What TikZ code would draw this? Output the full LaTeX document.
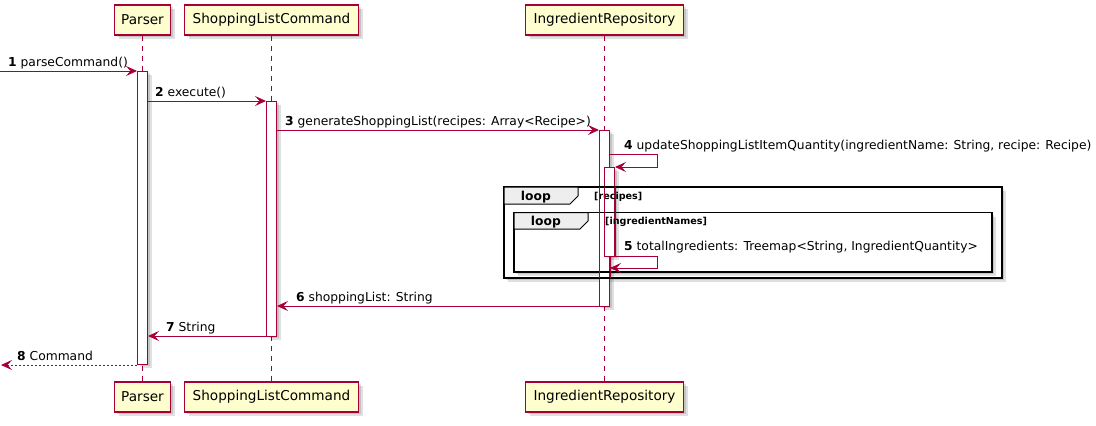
\documentclass[tikz,border=0pt]{standalone}
\usepackage{fontspec}
\setmainfont{DejaVu Sans}
\usetikzlibrary{arrows.meta}
\definecolor{pu}{HTML}{A80036}
\definecolor{pubg}{HTML}{FEFECE}
\definecolor{tabbg}{HTML}{EEEEEE}
\tikzset{
 partbox/.style={draw=pu, fill=pubg, line width=1.2pt, minimum height=30pt, inner sep=0pt, font=\fontsize{13.6}{16}\selectfont},
 lifeline/.style={draw=pu, line width=0.8pt, dash pattern=on 5pt off 5pt},
 actbox/.style={draw=pu, fill=white, line width=1pt, minimum width=10pt, inner sep=0pt},
 actline/.style={draw=pu, line width=1pt},
 msg/.style={draw=pu, line width=1pt, -{Stealth[length=11pt,width=10pt,inset=4.5pt]}},
 retmsg/.style={msg, dash pattern=on 2pt off 2pt},
 msglabel/.style={anchor=base west, inner sep=0pt, font=\fontsize{12.3}{14}\selectfont},
 looplabel/.style={anchor=base west, inner sep=0pt, font=\bfseries\fontsize{12.3}{14}\selectfont},
 condlabel/.style={anchor=base west, inner sep=0pt, font=\bfseries\fontsize{9.6}{11}\selectfont},
 framebox/.style={draw=black, line width=1.5pt},
 tabshape/.style={draw=black, fill=tabbg, line width=1pt},
 shade1/.style={fill=black, opacity=0.12, draw=none},
}
\newcommand{\shadowrect}[4]{%
  \fill[shade1] (#1+2,#2+2) rectangle (#3+2,#4+2);
  \fill[shade1] (#1+4,#2+4) rectangle (#3+4,#4+4);}
\begin{document}
\begin{tikzpicture}[x=1pt,y=-1pt]
\useasboundingbox (0,0) rectangle (1096,426);
\fill[white] (0,0) rectangle (1096,426);

% participant shadows
\shadowrect{114.5}{5}{170.5}{35}
\shadowrect{184.5}{5}{358.5}{35}
\shadowrect{525.5}{5}{683.5}{35}
\shadowrect{114.5}{382}{170.5}{412}
\shadowrect{184.5}{382}{358.5}{412}
\shadowrect{525.5}{382}{683.5}{412}

% participants
\node[partbox, minimum width=56pt] (pT) at (142.5,20) {Parser};
\node[partbox, minimum width=174pt] (sT) at (271.5,20) {ShoppingListCommand};
\node[partbox, minimum width=158pt] (iT) at (604.5,20) {IngredientRepository};
\node[partbox, minimum width=56pt] (pB) at (142.5,397) {Parser};
\node[partbox, minimum width=174pt] (sB) at (271.5,397) {ShoppingListCommand};
\node[partbox, minimum width=158pt] (iB2) at (604.5,397) {IngredientRepository};

% loop frame shadows (outside only)
\shadowrect{504}{187}{1002}{278}
\fill[white] (504,187) rectangle (1002,278);
\shadowrect{514}{212.5}{992}{272}
\fill[white] (514,212.5) rectangle (992,272);

% lifelines
\draw[lifeline] (pT.south) -- (pB.north);
\draw[lifeline] (sT.south) -- (sB.north);
\draw[lifeline] (iT.south) -- (iB2.north);

% activations
\shadowrect{137.5}{71}{147.5}{364}
\node[actbox, minimum height=293pt] (pA) at (142.5,217.5) {};
\shadowrect{266.5}{101}{276.5}{336}
\node[actbox, minimum height=235pt] (sA) at (271.5,218.5) {};
\shadowrect{599.5}{130}{609.5}{306}
\node[actbox, minimum height=176pt] (iA) at (604.5,218) {};
\shadowrect{604.5}{167}{614.5}{256}
\node[actbox, minimum height=89pt] (iB) at (609.5,211.5) {};

% loop frames (drawn over the activations, as in the reference)
\draw[framebox] (504,187) rectangle (1002,278);
\draw[tabshape] (504,187) -- (578,187) -- (578,196) -- (570,204) -- (504,204) -- cycle;
\node[looplabel] (lo1) at (520.7,200) {loop};
\node[condlabel] (c1) at (594,199.5) {[recipes]};

\draw[framebox] (514,212.5) rectangle (992,272);
\draw[tabshape] (514,212.5) -- (588,212.5) -- (588,221) -- (580,229) -- (514,229) -- cycle;
\node[looplabel] (lo2) at (530.7,225) {loop};
\node[condlabel] (c2) at (605,224.3) {[ingredientNames]};

% activation outlines crossing the frame labels stay visible
\draw[actline] (iA.west |- 0,187) -- (iA.west |- 0,278)
               (iA.east |- iB.south) -- (iA.east |- 0,278);
\draw[actline] (iB.west |- 0,187) -- (iB.south west)
               (iB.east |- 0,187) -- (iB.south east);

% messages
\coordinate (s1) at (0,71);
\draw[msg] (s1) -- (s1 -| pA.west);
\node[msglabel] (l1) at (8,66.5) {\textbf{1} parseCommand()};

\draw[msg] (pA.east |- 0,101) -- (sA.west |- 0,101);
\node[msglabel] (l2) at (155,96.5) {\textbf{2} execute()};

\draw[msg] (sA.east |- 0,130) -- (iA.west |- 0,130);
\node[msglabel] (l3) at (285,125.5) {\textbf{3} generateShoppingList(recipes: Array<Recipe>)};

\draw[msg] (iA.east |- 0,154) -- (657,154) -- (657,167) -- (iB.east |- 0,167);
\node[msglabel] (l4) at (624,149.3) {\textbf{4} updateShoppingListItemQuantity(ingredientName: String, recipe: Recipe)};

\draw[msg] (iB.east |- 0,256) -- (657,256) -- (657,268) -- (iA.east |- 0,268);
\node[msglabel] (l5) at (624,250.7) {\textbf{5} totalIngredients: Treemap<String, IngredientQuantity>};

\draw[msg] (iA.west |- 0,306) -- (sA.east |- 0,306);
\node[msglabel] (l6) at (296,301.7) {\textbf{6} shoppingList: String};

\draw[msg] (sA.west |- 0,336) -- (pA.east |- 0,336);
\node[msglabel] (l7) at (166,331.7) {\textbf{7} String};

\coordinate (e8) at (1,365);
\draw[retmsg] (pA.west |- e8) -- (e8);
\node[msglabel] (l8) at (17,360.7) {\textbf{8} Command};
\end{tikzpicture}
\end{document}
